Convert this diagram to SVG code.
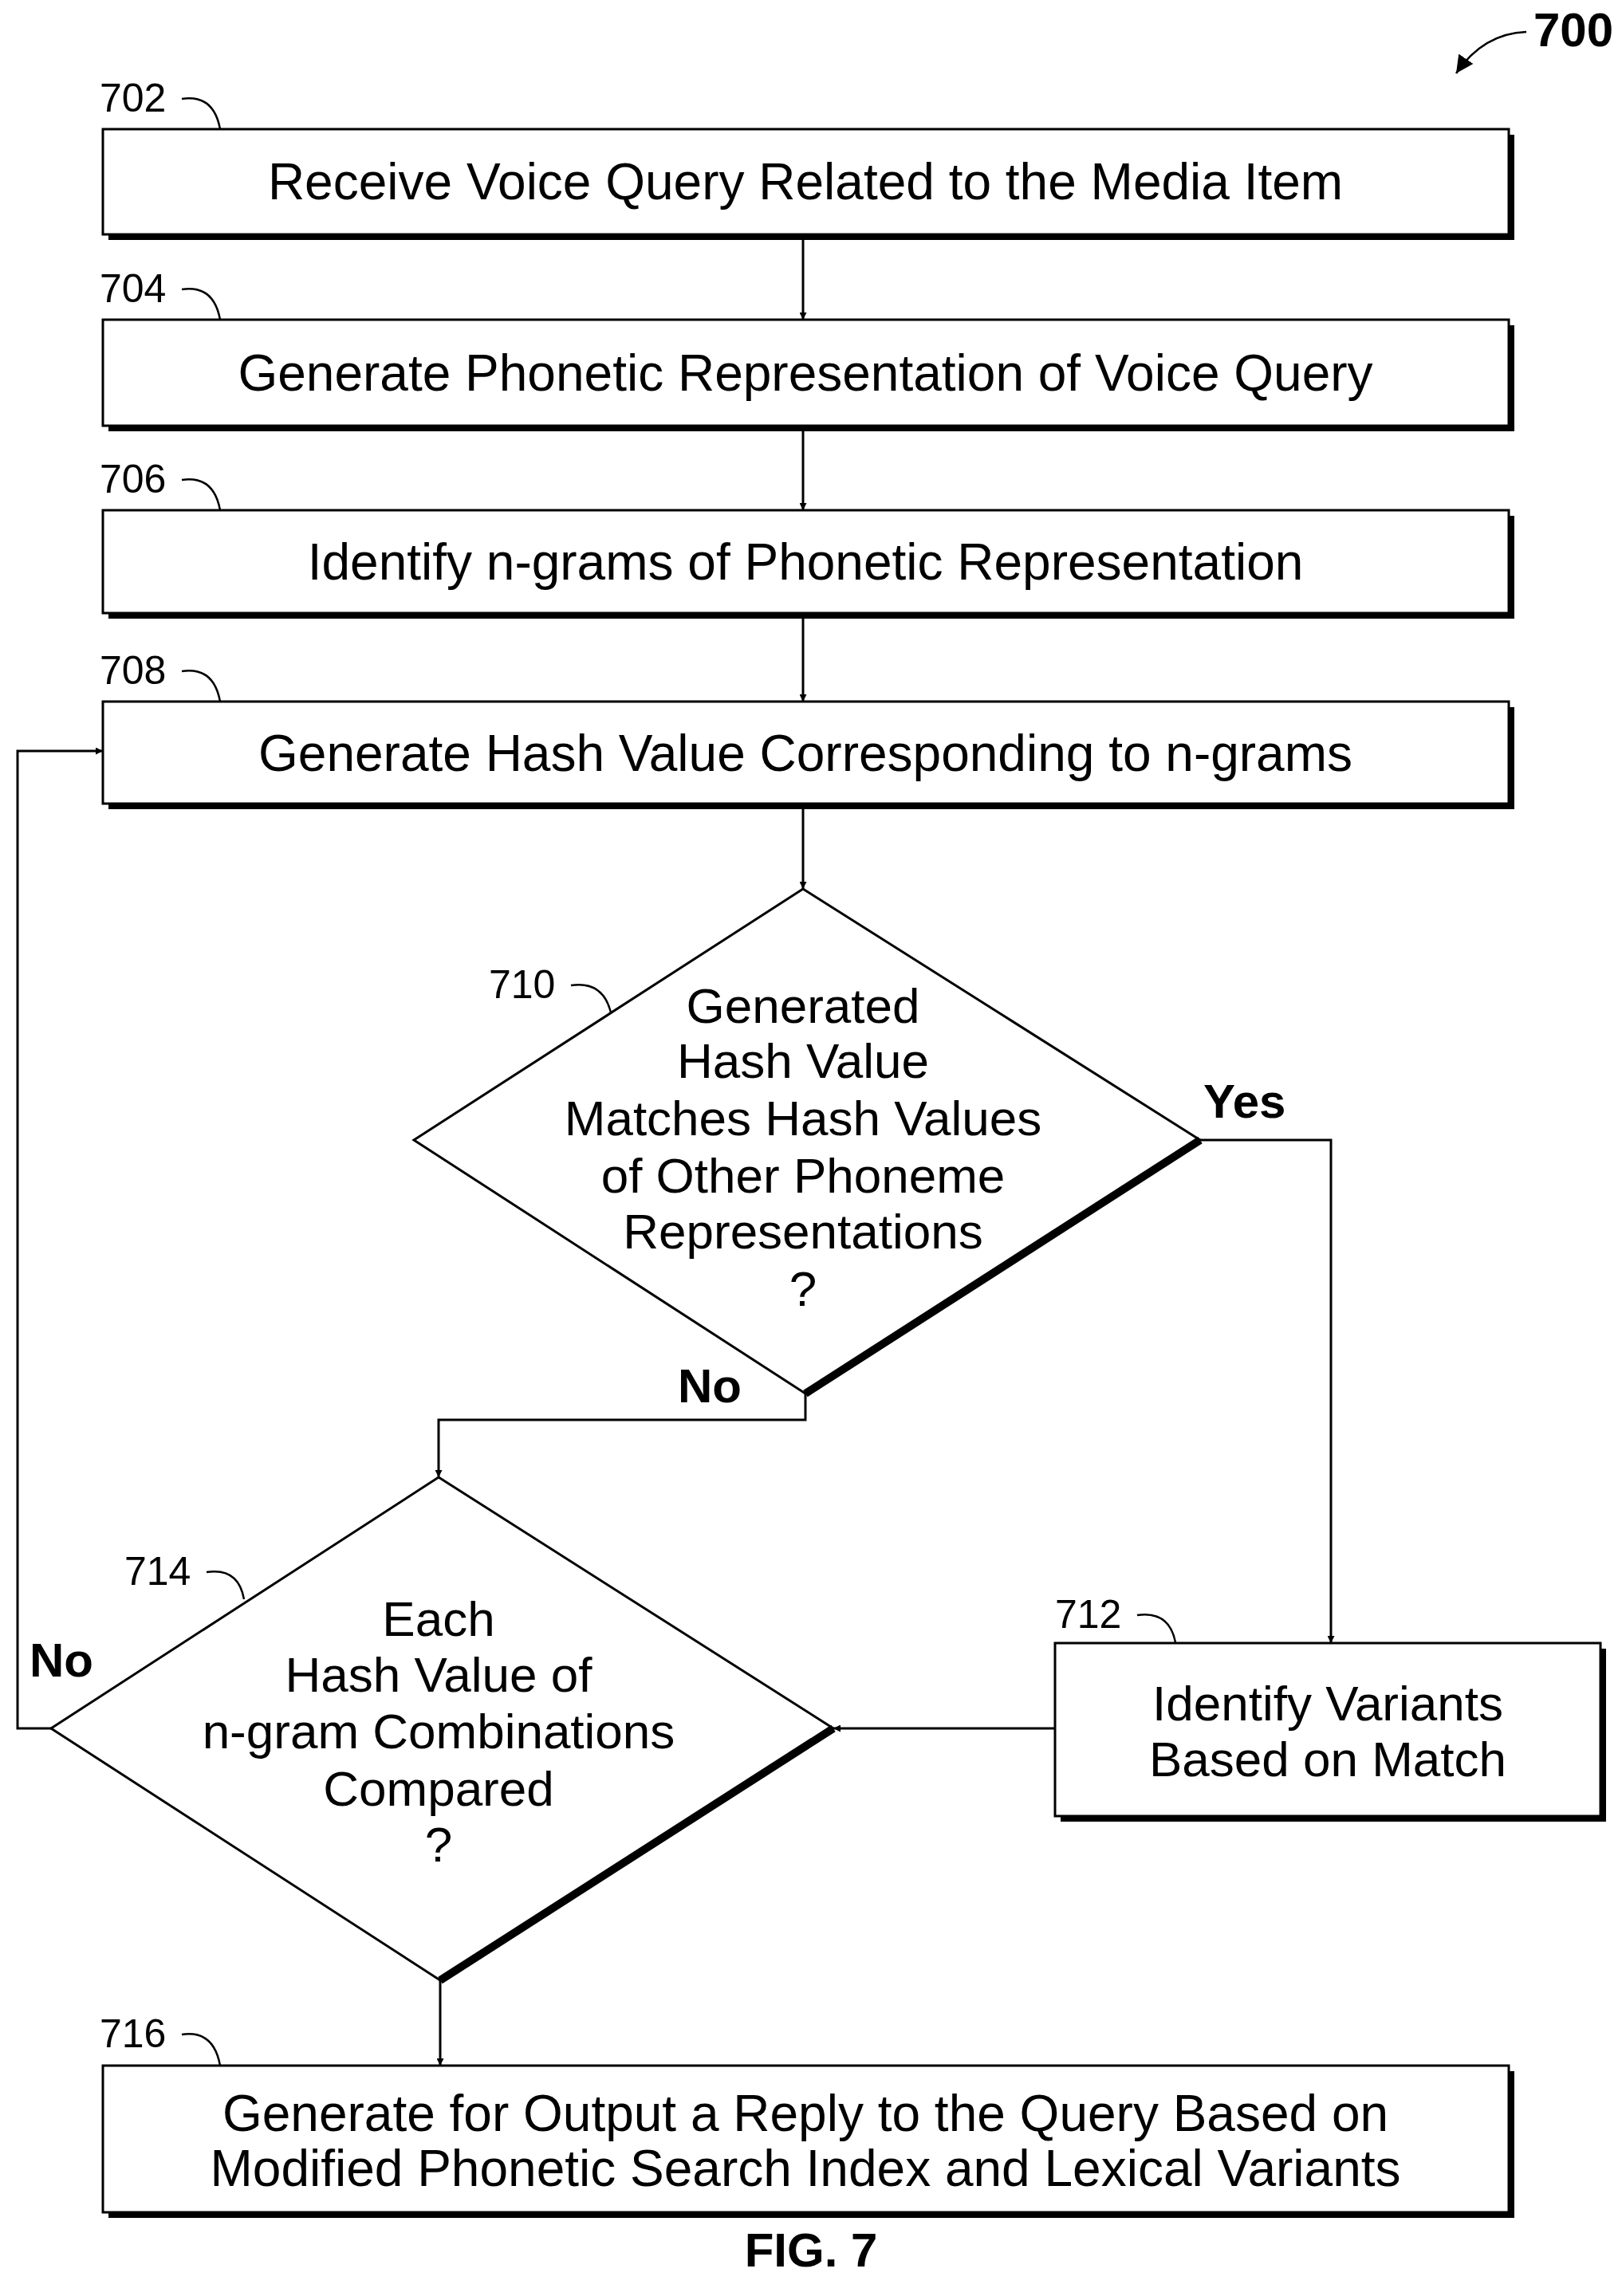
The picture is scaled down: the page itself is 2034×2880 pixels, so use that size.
<svg xmlns="http://www.w3.org/2000/svg" width="2034" height="2880" viewBox="0 0 2034 2880">
<defs>
<marker id="ah" viewBox="0 0 10 10" refX="10" refY="5" markerWidth="9" markerHeight="9" markerUnits="userSpaceOnUse" orient="auto"><path d="M0,0 L10,5 L0,10 z" fill="#000"/></marker>
<marker id="ah2" viewBox="0 0 10 10" refX="10" refY="5" markerWidth="22" markerHeight="22" markerUnits="userSpaceOnUse" orient="auto"><path d="M0,0 L10,5 L0,10 z" fill="#000"/></marker>
</defs>
<style>
.box{fill:#fff;stroke:#000;stroke-width:3}
.sh{fill:#000}
.t{font-family:"Liberation Sans",Arial,sans-serif;font-size:64px;text-anchor:middle;fill:#000}
.d{font-family:"Liberation Sans",Arial,sans-serif;font-size:62px;text-anchor:middle;fill:#000}
.lb{font-family:"Liberation Sans",Arial,sans-serif;font-size:50px;fill:#000}
.b{font-family:"Liberation Sans",Arial,sans-serif;font-size:60px;font-weight:bold;fill:#000}
.c{fill:none;stroke:#000;stroke-width:2.5}
.ln{fill:none;stroke:#000;stroke-width:3}
</style>
<rect width="2034" height="2880" fill="#fff"/>
<text class="b" x="1923" y="58" font-size="50">700</text>
<path class="c" d="M1914,40 Q1860,42 1826,92" stroke-width="4" marker-end="url(#ah2)"/>
<g id="n702"><rect class="sh" x="136" y="169" width="1763" height="132"/><rect class="box" x="129" y="162" width="1763" height="132"/><text class="t" x="1010" y="250">Receive Voice Query Related to the Media Item</text><text class="lb" x="125" y="140">702</text><path class="c" d="M228,124 Q268,118 276,162"/></g>
<g id="n704"><rect class="sh" x="136" y="408" width="1763" height="133"/><rect class="box" x="129" y="401" width="1763" height="133"/><text class="t" x="1010" y="490">Generate Phonetic Representation of Voice Query</text><text class="lb" x="125" y="379">704</text><path class="c" d="M228,363 Q268,357 276,401"/></g>
<g id="n706"><rect class="sh" x="136" y="647" width="1763" height="129"/><rect class="box" x="129" y="640" width="1763" height="129"/><text class="t" x="1010" y="727">Identify n-grams of Phonetic Representation</text><text class="lb" x="125" y="618">706</text><path class="c" d="M228,602 Q268,596 276,640"/></g>
<g id="n708"><rect class="sh" x="136" y="887" width="1763" height="128"/><rect class="box" x="129" y="880" width="1763" height="128"/><text class="t" x="1010" y="967">Generate Hash Value Corresponding to n-grams</text><text class="lb" x="125" y="858">708</text><path class="c" d="M228,842 Q268,836 276,880"/></g>
<g id="n710"><path d="M1007,1115 L1505,1430 L1010,1748 L519,1430 Z" fill="#fff" stroke="#000" stroke-width="3"/><path d="M1505,1430 L1010,1748" stroke="#000" stroke-width="10"/>
<text class="d" x="1007" y="1283">Generated</text><text class="d" x="1007" y="1352">Hash Value</text><text class="d" x="1007" y="1424">Matches Hash Values</text><text class="d" x="1007" y="1496">of Other Phoneme</text><text class="d" x="1007" y="1566">Representations</text><text class="d" x="1007" y="1638">?</text>
<text class="lb" x="613" y="1252">710</text><path class="c" d="M716,1236 Q756,1230 766,1270"/></g>
<g id="n712"><rect class="sh" x="1330" y="2068" width="684" height="217"/><rect class="box" x="1323" y="2061" width="684" height="217"/><text class="d" x="1665" y="2158">Identify Variants</text><text class="d" x="1665" y="2228">Based on Match</text><text class="lb" x="1323" y="2042">712</text><path class="c" d="M1426,2026 Q1466,2020 1474,2060"/></g>
<g id="n714"><path d="M550,1853 L1045,2168 L552,2484 L64,2168 Z" fill="#fff" stroke="#000" stroke-width="3"/><path d="M1045,2168 L552,2484" stroke="#000" stroke-width="10"/>
<text class="d" x="550" y="2052">Each</text><text class="d" x="550" y="2122">Hash Value of</text><text class="d" x="550" y="2193">n-gram Combinations</text><text class="d" x="550" y="2265">Compared</text><text class="d" x="550" y="2335">?</text>
<text class="lb" x="156" y="1988">714</text><path class="c" d="M259,1972 Q299,1966 306,2006"/></g>
<g id="n716"><rect class="sh" x="136" y="2598" width="1763" height="184"/><rect class="box" x="129" y="2591" width="1763" height="184"/><text class="t" x="1010" y="2673">Generate for Output a Reply to the Query Based on</text><text class="t" x="1010" y="2742">Modified Phonetic Search Index and Lexical Variants</text><text class="lb" x="125" y="2568">716</text><path class="c" d="M228,2552 Q268,2546 276,2591"/></g>
<g id="connectors">
<path class="ln" d="M1007,294 V401" marker-end="url(#ah)"/>
<path class="ln" d="M1007,534 V640" marker-end="url(#ah)"/>
<path class="ln" d="M1007,769 V880" marker-end="url(#ah)"/>
<path class="ln" d="M1007,1008 V1115" marker-end="url(#ah)"/>
<path class="ln" d="M1505,1430 H1669 V2061" marker-end="url(#ah)"/>
<path class="ln" d="M1010,1748 V1781 H550 V1853" marker-end="url(#ah)"/>
<path class="ln" d="M1323,2168 H1045" marker-end="url(#ah)"/>
<path class="ln" d="M552,2484 V2591" marker-end="url(#ah)"/>
<path class="ln" d="M64,2168 H22 V942 H129" marker-end="url(#ah)"/>
</g>
<text class="b" x="1509" y="1402">Yes</text>
<text class="b" x="850" y="1759">No</text>
<text class="b" x="37" y="2103">No</text>
<text class="b" x="1017" y="2843" text-anchor="middle">FIG. 7</text>
</svg>
